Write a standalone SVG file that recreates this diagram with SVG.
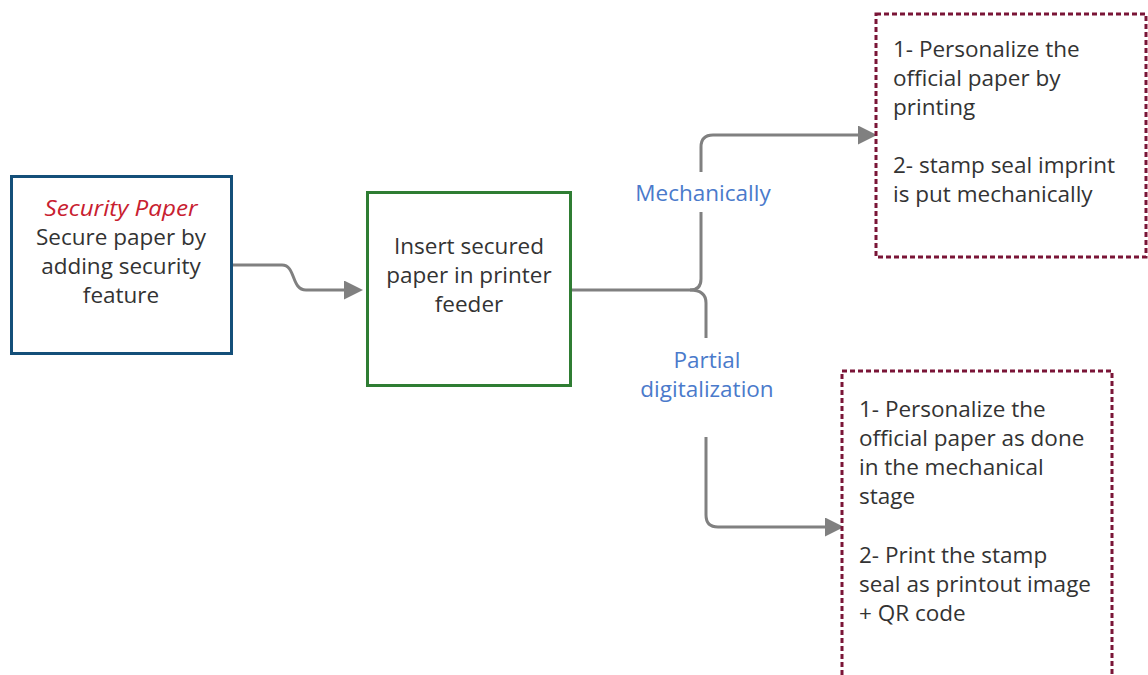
<svg xmlns="http://www.w3.org/2000/svg" width="1148" height="675" viewBox="0 0 1148 675">
  <style>
    .txt { font-family: "Open Sans", "Noto Sans", "DejaVu Sans", sans-serif; font-size: 22.5px; fill: #333333; }
    .mid { text-anchor: middle; }
    .lbl { font-family: "Open Sans", "Noto Sans", "DejaVu Sans", sans-serif; font-size: 22.5px; fill: #4a7acb; text-anchor: middle; }
    .title { fill: #c8202f; font-style: italic; }
    .edge { fill: none; stroke: #808080; stroke-width: 3; }
    .note { fill: #ffffff; stroke: #7a1537; stroke-width: 3; stroke-dasharray: 5 3; }
  </style>
  <defs>
    <marker id="arrow" markerUnits="userSpaceOnUse" markerWidth="19" markerHeight="19" refX="8" refY="9.5" orient="auto">
      <path d="M0,0 L19,9.5 L0,19 z" fill="#808080"/>
    </marker>
  </defs>
  <rect width="1148" height="675" fill="#ffffff"/>

  <!-- connectors -->
  <g id="connectors">
    <path class="edge" d="M232,265 H282 C296,265 291,290 306,290 H352" marker-end="url(#arrow)"/>
    <path class="edge" d="M571,290 H690 Q701,290 701,279 V212"/>
    <path class="edge" d="M701,172 V147 Q701,135 713,135 H866" marker-end="url(#arrow)"/>
    <path class="edge" d="M690,290 Q706,290 706,303 V338"/>
    <path class="edge" d="M706,437 V515 Q706,527 718,527 H833" marker-end="url(#arrow)"/>
    <text class="lbl" x="703" y="201">Mechanically</text>
    <text class="lbl" x="707" y="368">Partial</text>
    <text class="lbl" x="707" y="397">digitalization</text>
  </g>

  <!-- security paper -->
  <g id="node-security-paper">
    <rect x="11.5" y="176.5" width="220" height="177" fill="#ffffff" stroke="#144f79" stroke-width="3"/>
    <text class="txt mid title" x="121" y="216" textLength="153" lengthAdjust="spacingAndGlyphs">Security Paper</text>
    <text class="txt mid" x="121" y="245">Secure paper by</text>
    <text class="txt mid" x="121" y="274">adding security</text>
    <text class="txt mid" x="121" y="303">feature</text>
  </g>

  <!-- printer feeder -->
  <g id="node-printer-feeder">
    <rect x="367.5" y="192.5" width="203" height="193" fill="#ffffff" stroke="#2f7d33" stroke-width="3"/>
    <text class="txt mid" x="469" y="254">Insert secured</text>
    <text class="txt mid" x="469" y="283">paper in printer</text>
    <text class="txt mid" x="469" y="312">feeder</text>
  </g>

  <!-- mechanical path -->
  <g id="node-mechanical">
    <rect class="note" x="876" y="14" width="270" height="243"/>
    <text class="txt" x="893" y="57">1- Personalize the</text>
    <text class="txt" x="893" y="86">official paper by</text>
    <text class="txt" x="893" y="115">printing</text>
    <text class="txt" x="893" y="173">2- stamp seal imprint</text>
    <text class="txt" x="893" y="202">is put mechanically</text>
  </g>

  <!-- partial digitalization path -->
  <g id="node-digital">
    <rect class="note" x="842" y="371" width="270" height="330"/>
    <text class="txt" x="859" y="417">1- Personalize the</text>
    <text class="txt" x="859" y="446">official paper as done</text>
    <text class="txt" x="859" y="475">in the mechanical</text>
    <text class="txt" x="859" y="504">stage</text>
    <text class="txt" x="859" y="563">2- Print the stamp</text>
    <text class="txt" x="859" y="592">seal as printout image</text>
    <text class="txt" x="859" y="621">+ QR code</text>
  </g>
</svg>
